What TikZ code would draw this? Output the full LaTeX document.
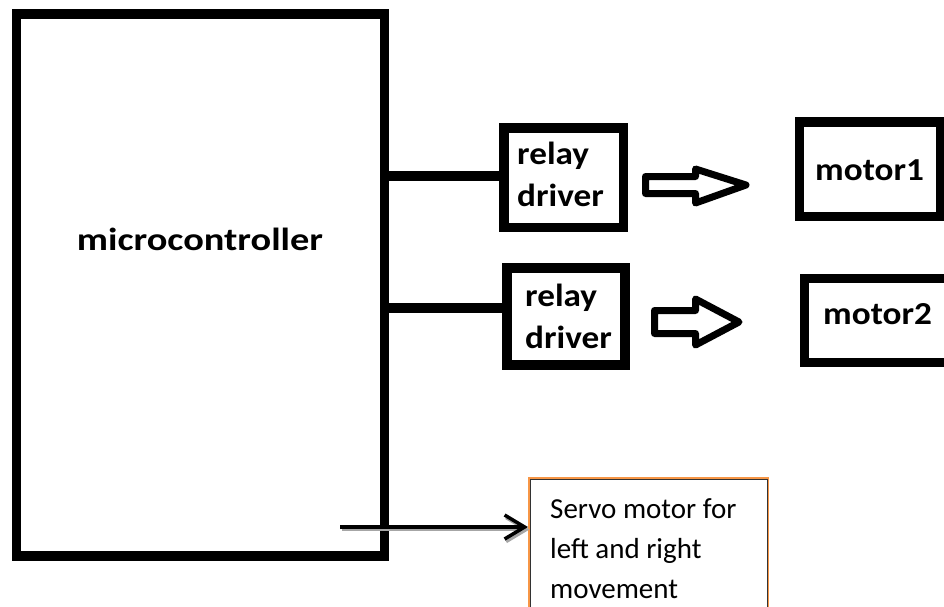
\documentclass[tikz,border=0pt]{standalone}
\usepackage{fontspec}
\setmainfont{Carlito}
\usetikzlibrary{arrows.meta,calc}
\definecolor{servoorange}{RGB}{247,150,70}
\tikzset{
  thickbox/.style={draw=black, line width=9.5pt, inner sep=0pt, fill=white},
  boldlabel/.style={font=\fontsize{32}{42}\selectfont\bfseries, inner sep=0pt, anchor=base west, align=left, xscale=1.1},
  wire/.style={line width=10pt},
  hollowarrow/.style={draw=black, line width=7pt, line join=round, fill=white},
  servobox/.style={draw=servoorange, line width=2pt, inner sep=0pt, anchor=north west},
  servotext/.style={font=\fontsize{29}{40}\selectfont, inner sep=0pt, anchor=base west, align=left},
  servoarrow/.style={line width=3.5pt, -{Straight Barb[length=20pt,width=24pt,line width=3.5pt]}},
}
\begin{document}
\begin{tikzpicture}[x=1pt,y=-1pt]
\clip (0,0) rectangle (944,606);
\fill[white] (0,0) rectangle (944,606);
% blocks
\node[thickbox, minimum width=368pt, minimum height=542pt] (mc) at (200.5,285) {};
\node[boldlabel, anchor=base, xscale=1.09] (mctext) at (200,250) {microcontroller};
\node[thickbox, minimum width=119.5pt, minimum height=99.5pt] (r1) at (563.75,177.75) {};
\node[thickbox, minimum width=118pt, minimum height=97pt] (r2) at (566,316.5) {};
\node[boldlabel] (r1text) at (517,206) {relay\\driver};
\node[boldlabel] (r2text) at (525,348) {relay\\driver};
\node[thickbox, minimum width=141.5pt, minimum height=94.5pt] (m1) at (870.25,169.25) {};
\node[thickbox, minimum width=145.5pt, minimum height=84pt] (m2) at (877.25,320.5) {};
\node[boldlabel] (m1text) at (815,180) {motor1};
\node[boldlabel] (m2text) at (823,324) {motor2};
% wires
\coordinate (w1) at (0,176);
\coordinate (w2) at (0,307.5);
\draw[wire] (mc.east |- w1) -- (r1.west |- w1);
\draw[wire] (mc.east |- w2) -- (r2.west |- w2);
% hollow arrows
\coordinate (a1) at (645.5,185);
\draw[hollowarrow] ($(a1)+(0,-8.5)$) -- ++(50,0) -- ++(0,-7.5) -- ($(a1)+(100.5,0)$)
  -- ($(a1)+(50,18)$) -- ++(0,-9.5) -- ($(a1)+(0,8.5)$) -- cycle;
\coordinate (a2) at (654.5,322);
\draw[hollowarrow] ($(a2)+(0,-11.5)$) -- ++(41,0) -- ++(0,-11.5) -- ($(a2)+(84.5,0)$)
  -- ($(a2)+(41,23)$) -- ++(0,-11.5) -- ($(a2)+(0,11.5)$) -- cycle;
% servo
\node[servobox, minimum width=239pt, minimum height=160pt] (servo) at (528,477) {};
\draw[black!80, line width=0.8pt] ($(servo.north west)+(2,2)$) -- ($(servo.north east)+(-2,2)$) -- ($(servo.south east)+(-2,0)$);
\draw[black!80, line width=0.8pt] ($(servo.north west)+(2,2)$) -- ($(servo.south west)+(2,0)$);
\node[servotext] (servotxt) at (550,598) {Servo motor for\\left and right\\movement};
\coordinate (s0) at (340,527);
\draw[servoarrow, black!35] ($(s0)+(1.5,2.5)$) -- ($(servo.west |- s0)+(1.5,2.5)$);
\draw[servoarrow] (s0) -- (servo.west |- s0);
\end{tikzpicture}
\end{document}
